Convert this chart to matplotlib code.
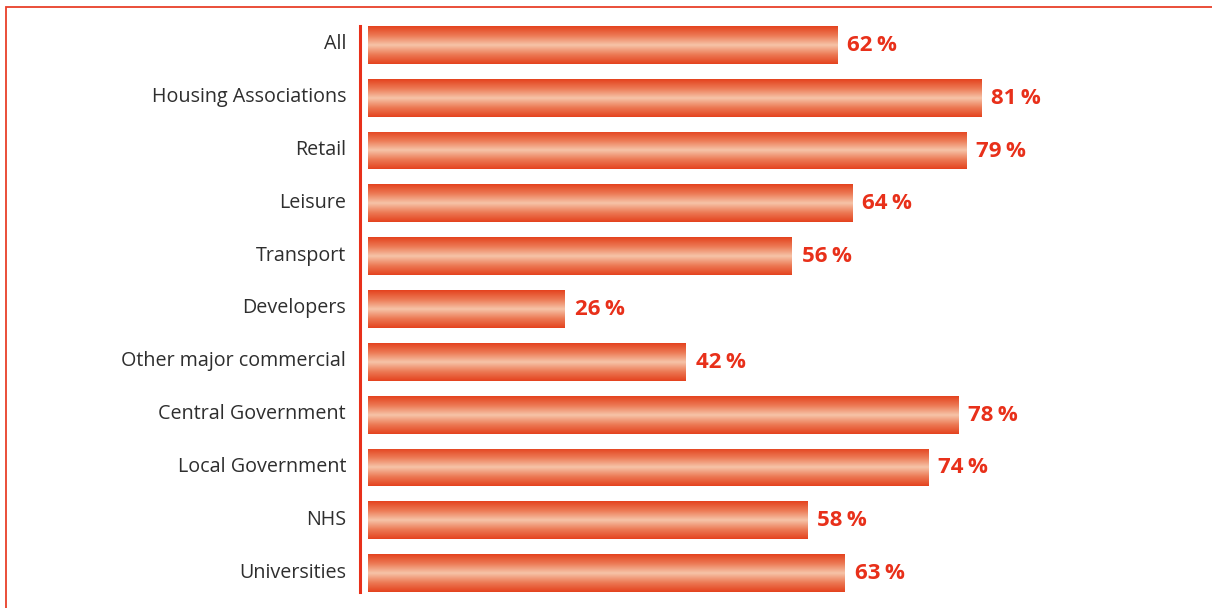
import numpy as np
import matplotlib
matplotlib.use("Agg")
import matplotlib.pyplot as plt
from matplotlib.colors import LinearSegmentedColormap
from matplotlib.patches import Rectangle
from matplotlib.transforms import ScaledTranslation

categories = ["All", "Housing Associations", "Retail", "Leisure", "Transport",
              "Developers", "Other major commercial", "Central Government",
              "Local Government", "NHS", "Universities"]
values = [62, 81, 79, 64, 56, 26, 42, 78, 74, 58, 63]

RED = "#E8301A"
TEXT = "#2E2E2E"
W, H = 1212, 608
PX_PER_UNIT = 7.57  # horizontal pixels per percentage point

fig = plt.figure(figsize=(W / 100, H / 100), dpi=100)

# Outer frame (runs off the right and bottom edges)
fig.add_artist(Rectangle((6 / W, -0.05), 1.2, 1 - 7 / H + 0.05,
                         transform=fig.transFigure, fill=False,
                         edgecolor="#E8402A", linewidth=1.3))

ax_left, ax_top, ax_bottom = 360, 26, 592
ax = fig.add_axes([ax_left / W, 1 - ax_bottom / H,
                   (W - ax_left) / W, (ax_bottom - ax_top) / H])

x0 = -8 / PX_PER_UNIT
bar_h = 0.717
n = len(categories)

y = np.arange(n)
bars = ax.barh(y, values, height=bar_h, color="none", edgecolor="none")

cmap = LinearSegmentedColormap.from_list(
    "tube", ["#E4421E", "#EC7A55", "#F6C4A8", "#EC7A55", "#E4421E"])
grad = np.linspace(0, 1, 256).reshape(-1, 1)
for b, v in zip(bars, values):
    x, yb = b.get_x(), b.get_y()
    w, h = b.get_width(), b.get_height()
    im = ax.imshow(grad, cmap=cmap, aspect="auto",
                   extent=(x, x + w, yb + h, yb), origin="upper",
                   interpolation="bilinear", zorder=2)
    im.set_clip_path(b)
    ax.text(v + 1.3, b.get_y() + h / 2 + 0.01, f"{v}\u2009%", va="center",
            ha="left", color=RED, fontsize=16, fontweight="bold",
            family=["Open Sans", "DejaVu Sans"], zorder=3)

ax.set_xlim(x0, x0 + (W - ax_left) / PX_PER_UNIT)
ax.set_ylim(n - 1 + bar_h / 2, -bar_h / 2)

ax.set_yticks(y)
ax.set_yticklabels(categories, fontsize=14.2, color=TEXT, family="Open Sans")
ax.tick_params(axis="y", length=0, pad=10)
shift = ScaledTranslation(0, 3 / 100, fig.dpi_scale_trans)
for lab in ax.get_yticklabels():
    lab.set_transform(lab.get_transform() + shift)
ax.set_xticks([])
for s in ["top", "right", "bottom"]:
    ax.spines[s].set_visible(False)
ax.spines["left"].set_color(RED)
ax.spines["left"].set_linewidth(2.2)
ax.patch.set_visible(False)

fig.savefig("out.png", dpi=100)
